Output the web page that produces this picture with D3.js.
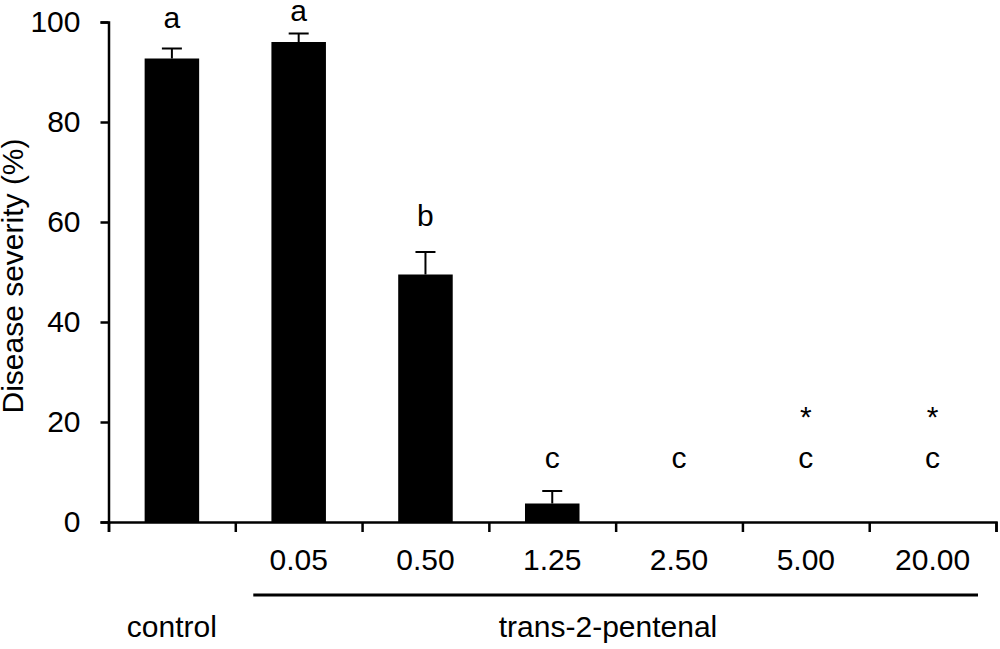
<!DOCTYPE html>
<html>
<head>
<meta charset="utf-8">
<script src="https://cdn.jsdelivr.net/npm/d3@7"></script>
<style>
  body { margin: 0; background: #fff; }
  text { font-family: "Liberation Sans", Arial, sans-serif; fill: #000; }
</style>
</head>
<body>
<svg id="chart" width="1000" height="649"></svg>
<script>
// data
var categories = ["control", "0.05", "0.50", "1.25", "2.50", "5.00", "20.00"];
var severity   = [92.7, 96.0, 49.5, 3.7, 0, 0, 0];
var stdErr     = [2.0, 1.7, 4.5, 2.5, 0, 0, 0];
var letters    = ["a", "a", "b", "c", "c", "c", "c"];
var letterAt   = [98.8, 100.2, 59.2, 10.8, 10.8, 10.8, 10.8];
var starred    = [false, false, false, false, false, true, true];
var starAt     = 19;
var yTicks     = [0, 20, 40, 60, 80, 100];
var groupName  = "trans-2-pentenal";

var svg = d3.select("#chart");
var plotL = 108.5, plotR = 996, plotT = 22, plotB = 522;

var x = d3.scaleBand().domain(categories).range([plotL, plotR]).padding(0);
var y = d3.scaleLinear().domain([0, 100]).range([plotB, plotT]);
// boundaries between categories, for the tick marks
var xb = d3.scaleLinear().domain([0, categories.length]).range([plotL, plotR]);

var barW = x.bandwidth() * 0.43;
var capW = 20;

var rows = categories.map(function(c, i){
  return {cat: c, v: severity[i], e: stdErr[i], l: letters[i], ly: letterAt[i], star: starred[i]};
});

// bars
svg.selectAll(".bar").data(rows.filter(function(d){ return d.v > 0; }))
  .enter().append("rect")
  .attr("class", "bar")
  .attr("x", function(d){ return x(d.cat) + x.bandwidth()/2 - barW/2; })
  .attr("y", function(d){ return y(d.v); })
  .attr("width", barW)
  .attr("height", function(d){ return y(0) - y(d.v); })
  .attr("fill", "#000");

// error bars (upper only)
var eb = svg.selectAll(".err").data(rows.filter(function(d){ return d.e > 0; }))
  .enter().append("g").attr("class", "err")
  .attr("stroke", "#000").attr("stroke-width", 2);
eb.append("line")
  .attr("x1", function(d){ return x(d.cat) + x.bandwidth()/2; })
  .attr("x2", function(d){ return x(d.cat) + x.bandwidth()/2; })
  .attr("y1", function(d){ return y(d.v); })
  .attr("y2", function(d){ return y(d.v + d.e); });
eb.append("line")
  .attr("x1", function(d){ return x(d.cat) + x.bandwidth()/2 - capW/2; })
  .attr("x2", function(d){ return x(d.cat) + x.bandwidth()/2 + capW/2; })
  .attr("y1", function(d){ return y(d.v + d.e); })
  .attr("y2", function(d){ return y(d.v + d.e); });

// significance letters
svg.selectAll(".letter").data(rows).enter().append("text")
  .attr("class", "letter")
  .attr("x", function(d){ return x(d.cat) + x.bandwidth()/2; })
  .attr("y", function(d){ return y(d.ly); })
  .attr("text-anchor", "middle")
  .style("font-size", "30px")
  .text(function(d){ return d.l; });

svg.selectAll(".star").data(rows.filter(function(d){ return d.star; })).enter().append("text")
  .attr("class", "star")
  .attr("x", function(d){ return x(d.cat) + x.bandwidth()/2; })
  .attr("y", y(starAt))
  .attr("text-anchor", "middle")
  .style("font-size", "30px")
  .text("*");

// y axis
var yAxis = d3.axisLeft(y).tickValues(yTicks).tickSize(8).tickPadding(20);
var yg = svg.append("g").attr("transform", "translate(" + plotL + ",0)").call(yAxis);
yg.selectAll("text").style("font-size", "30px").attr("fill", "#000")
  .style("font-family", "'Liberation Sans', Arial, sans-serif");

// x axis: ticks at boundaries
var xbAxis = d3.axisBottom(xb).tickValues(d3.range(categories.length + 1))
  .tickSize(10).tickFormat("");
svg.append("g").attr("transform", "translate(0," + plotB + ")").call(xbAxis);

// x labels at category centres
var xAxis = d3.axisBottom(x).tickSize(0).tickPadding(27)
  .tickFormat(function(d){ return d === "control" ? "" : d; });
var xg = svg.append("g").attr("transform", "translate(0," + plotB + ")").call(xAxis);
xg.select(".domain").remove();
xg.selectAll("text").style("font-size", "30px").attr("fill", "#000")
  .style("font-family", "'Liberation Sans', Arial, sans-serif");

svg.selectAll(".domain, .tick line").attr("stroke", "#000").attr("stroke-width", 2.5);

// group underline + group names
var inset = 18;
svg.append("line")
  .attr("x1", x("0.05") + inset)
  .attr("x2", x("20.00") + x.bandwidth() - inset)
  .attr("y1", 595).attr("y2", 595)
  .attr("stroke", "#000").attr("stroke-width", 3);

svg.append("text")
  .attr("x", x("control") + x.bandwidth()/2)
  .attr("y", 637)
  .attr("text-anchor", "middle")
  .style("font-size", "30px")
  .text("control");

svg.append("text")
  .attr("x", 608)
  .attr("y", 637)
  .attr("text-anchor", "middle")
  .style("font-size", "30px")
  .text(groupName);

// y title
svg.append("text")
  .attr("transform", "translate(23,276) rotate(-90)")
  .attr("text-anchor", "middle")
  .style("font-size", "30px")
  .text("Disease severity (%)");
</script>
</body>
</html>
